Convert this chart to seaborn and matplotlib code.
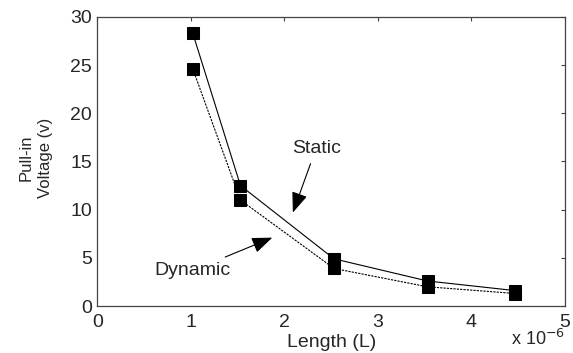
import numpy as np
import pandas as pd
import seaborn as sns
import matplotlib.pyplot as plt

# length in units of 1e-6
length = [1.02, 1.53, 2.53, 3.53, 4.47]
static_v = [28.3, 12.5, 4.9, 2.6, 1.6]
dynamic_v = [24.6, 11.0, 3.9, 2.0, 1.3]

sns.set_style("white")
plt.rcParams["font.family"] = ["Liberation Sans", "DejaVu Sans"]

df = pd.DataFrame({
    "length": length * 2,
    "voltage": static_v + dynamic_v,
    "kind": ["Static"] * len(length) + ["Dynamic"] * len(length),
})

fig, ax = plt.subplots(figsize=(5.73, 3.53), dpi=100)
fig.subplots_adjust(left=0.17, right=0.986, top=0.952, bottom=0.133)

sns.lineplot(data=df, x="length", y="voltage", style="kind",
             dashes={"Static": "", "Dynamic": (2, 1)}, markers={"Static": "s", "Dynamic": "s"},
             color="black", linewidth=0.8, markersize=9, markeredgecolor="black",
             legend=False, ax=ax)

ax.set_xlim(0, 5)
ax.set_ylim(0, 30)
ax.set_xticks([0, 1, 2, 3, 4, 5])
ax.set_yticks([0, 5, 10, 15, 20, 25, 30])
ax.tick_params(direction="in", length=3, top=True, right=True, labelsize=14,
               color="#444444", width=0.8)
ax.tick_params(axis="x", pad=6)
ax.tick_params(axis="y", pad=4)
for s in ax.spines.values():
    s.set_color("#444444")
    s.set_linewidth(0.9)

ax.set_xlabel("Length (L)", fontsize=14)
ax.xaxis.set_label_coords(0.5, -0.095)
ax.set_ylabel("Pull-in\nVoltage (v)", fontsize=12, linespacing=1.4)
ax.yaxis.set_label_coords(-0.094, 0.514)
fig.text(0.986, 0.012, r"x 10$^{-6}$", ha="right", va="bottom", fontsize=13)

arrow = dict(arrowstyle="-|>,head_length=0.9,head_width=0.35", color="black", lw=0.8,
             shrinkA=3, shrinkB=0)
ax.annotate("Static", xy=(2.09, 9.7), xytext=(2.34, 16.4), fontsize=14,
            ha="center", va="center", arrowprops=arrow)
ax.annotate("Dynamic", xy=(1.87, 7.1), xytext=(1.02, 3.7), fontsize=14,
            ha="center", va="center", arrowprops=arrow)

fig.savefig("out.png", dpi=100)
